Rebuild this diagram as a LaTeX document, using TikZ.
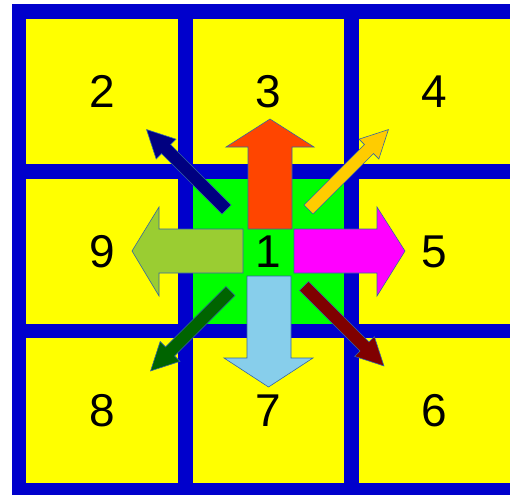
\documentclass[tikz,border=0pt]{standalone}
\usepackage{fontspec}
\setmainfont{Liberation Sans}
\usepackage{xcolor}

\definecolor{gridblue}{HTML}{0000CC}
\definecolor{cellyellow}{HTML}{FFFF00}
\definecolor{cellgreen}{HTML}{00FF00}
\definecolor{uparrow}{HTML}{FF4500}
\definecolor{leftarrow}{HTML}{9ACD32}
\definecolor{rightarrow}{HTML}{FF00FF}
\definecolor{downarrow}{HTML}{87CEEB}
\definecolor{nwarrow}{HTML}{000080}
\definecolor{nearrow}{HTML}{FFCC00}
\definecolor{swarrow}{HTML}{006400}
\definecolor{searrow}{HTML}{800000}
\definecolor{edgeblue}{HTML}{3465A4}

\tikzset{
  cell/.style={fill=cellyellow, inner sep=0pt, minimum width=151.5pt, minimum height=145pt,
    font=\fontsize{46}{46}\selectfont},
  blockarrow/.style={draw=edgeblue, line width=0.6pt, line join=miter},
}

% thin diagonal arrow: tail point, angle, colour
\newcommand{\diagarrow}[3]{%
  \begin{scope}[shift={#1}, rotate=#2]
    \draw[blockarrow, fill=#3] (0,-6.4) -- (85.5,-6.4) -- (85.5,-14) -- (113,0)
      -- (85.5,14) -- (85.5,6.4) -- (0,6.4) -- cycle;
  \end{scope}}

\begin{document}
\begin{tikzpicture}[x=1pt, y=-1pt]
    \useasboundingbox (0,0) rectangle (510,495);
    \fill[gridblue] (12,4) rectangle (510,495);

    \node[cell] (c2) at (102,91.5) {2};
    \node[cell] (c3) at (268.5,91.5) {3};
    \node[cell] (c4) at (434.5,91.5) {4};
    \node[cell] (c9) at (102,251.5) {9};
    \node[cell, fill=cellgreen] (c1) at (268.5,251.5) {};
    \node[cell] (c5) at (434.5,251.5) {5};
    \node[cell] (c8) at (102,410.5) {8};
    \node[cell] (c7) at (268.5,410.5) {7};
    \node[cell] (c6) at (434.5,410.5) {6};

    % wide arrows
    \draw[blockarrow, fill=uparrow] (248,229) -- (292,229) -- (292,147) -- (314,147)
      -- (270,119) -- (226,147) -- (248,147) -- cycle;
    \draw[blockarrow, fill=leftarrow] (243,229) -- (243,273) -- (159,273) -- (159,296)
      -- (132,251) -- (159,207) -- (159,229) -- cycle;
    \draw[blockarrow, fill=rightarrow] (294,229) -- (294,273) -- (377,273) -- (377,296)
      -- (405,251) -- (377,207) -- (377,229) -- cycle;
    \draw[blockarrow, fill=downarrow] (247,276) -- (291,276) -- (291,358) -- (313,358)
      -- (268.5,387) -- (224,358) -- (247,358) -- cycle;

    % thin arrows
    \diagarrow{(226.5,209.5)}{135}{nwarrow}
    \diagarrow{(308.5,209.5)}{45}{nearrow}
    \diagarrow{(230.5,291)}{225}{swarrow}
    \diagarrow{(304,286)}{-45}{searrow}

    \node[font=\fontsize{46}{46}\selectfont] (one) at (c1) {1};
\end{tikzpicture}
\end{document}
